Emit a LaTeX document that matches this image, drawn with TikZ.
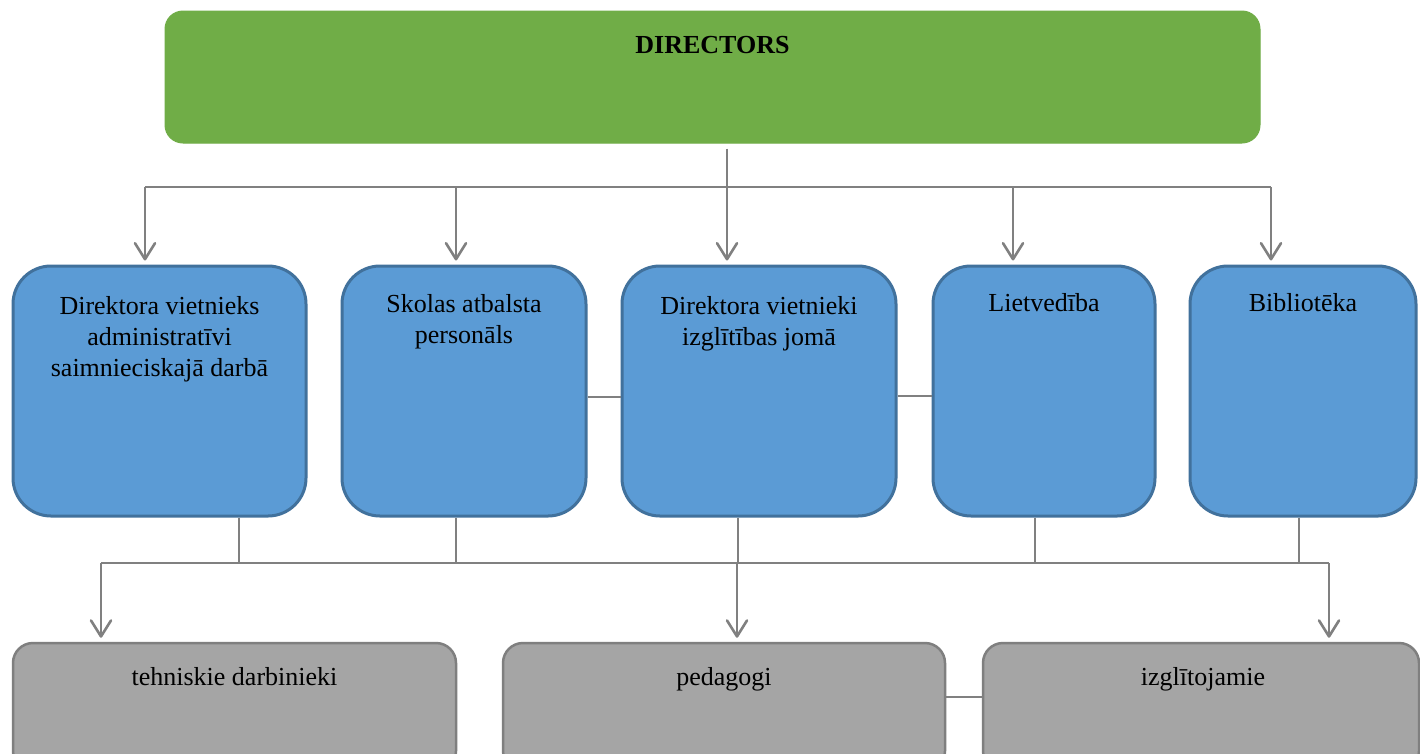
\documentclass[tikz,border=0pt]{standalone}
\usepackage{fontspec}
\setmainfont{Liberation Serif}
\usetikzlibrary{arrows.meta}
\definecolor{grn}{HTML}{70AD47}
\definecolor{bluefill}{HTML}{5B9BD5}
\definecolor{blueline}{HTML}{41719C}
\definecolor{grayfill}{HTML}{A5A5A5}
\definecolor{grayline}{HTML}{7F7F7F}
\definecolor{connc}{HTML}{808080}
\tikzset{
  topbox/.style={draw=grn, fill=grn, line width=1pt, rounded corners=18pt, inner sep=0pt},
  bluebox/.style={draw=blueline, fill=bluefill, line width=3pt, rounded corners=38pt, inner sep=0pt, minimum height=250pt},
  graybox/.style={draw=grayline, fill=grayfill, line width=2.5pt, rounded corners=20pt, inner sep=0pt, minimum height=128pt},
  txt/.style={font=\fontsize{26}{31}\selectfont, align=center, inner sep=0pt, anchor=north, text=black},
  conn/.style={draw=connc, line width=2.6pt},
  arr/.style={conn, -{Straight Barb[length=16pt,width=20pt,line width=2.6pt,round]}, shorten >=4pt},
}
\begin{document}
\begin{tikzpicture}[x=1pt,y=-1pt]
\useasboundingbox (0,0) rectangle (1420,753);
\fill[white] (0,0) rectangle (1420,753);

% top box
\node[topbox, minimum width=1095pt, minimum height=132pt] (top) at (712.5,77) {};
\node[txt] (ttop) at (712.5,36) {\bfseries DIRECTORS};

% blue boxes
\node[bluebox, minimum width=293pt] (b1) at (159.5,391) {};
\node[bluebox, minimum width=244pt] (b2) at (464,391) {};
\node[bluebox, minimum width=274pt] (b3) at (759,391) {};
\node[bluebox, minimum width=222pt] (b4) at (1044,391) {};
\node[bluebox, minimum width=226pt] (b5) at (1303,391) {};

\node[txt] (t1) at (159.5,296) {Direktora vietnieks\\administratīvi\\saimnieciskajā darbā};
\node[txt] (t2) at (464,294) {Skolas atbalsta\\personāls};
\node[txt] (t3) at (759,296) {Direktora vietnieki\\izglītības jomā};
\node[txt] (t4) at (1044,293) {Lietvedība};
\node[txt] (t5) at (1303,293) {Bibliotēka};

% gray boxes
\node[graybox, minimum width=443pt] (g1) at (234.5,707) {};
\node[graybox, minimum width=442pt] (g2) at (724,707) {};
\node[graybox, minimum width=436pt] (g3) at (1201,707) {};

\node[txt] (u1) at (234.5,667) {tehniskie darbinieki};
\node[txt] (u2) at (724,667) {pedagogi};
\node[txt] (u3) at (1203,667) {izglītojamie};

% top connectors
\coordinate (tr) at (727,187);
\coordinate (ba1) at (145,187);
\coordinate (ba2) at (456,187);
\coordinate (ba3) at (727,187);
\coordinate (ba4) at (1013,187);
\coordinate (ba5) at (1271,187);
\draw[conn, shorten <=5pt] (top.south -| tr) -- (tr);
\draw[conn] (ba1) -- (ba5);
\draw[arr] (ba1) -- (ba1 |- b1.north);
\draw[arr] (ba2) -- (ba2 |- b2.north);
\draw[arr] (ba3) -- (ba3 |- b3.north);
\draw[arr] (ba4) -- (ba4 |- b4.north);
\draw[arr] (ba5) -- (ba5 |- b5.north);

% side connectors
\draw[conn] ([yshift=-6pt]b2.east) -- ([yshift=-6pt]b3.west);
\draw[conn] ([yshift=-5pt]b3.east) -- ([yshift=-5pt]b4.west);
\draw[conn] ([yshift=10pt]g2.east) -- ([yshift=10pt]g3.west);

% lower connectors
\coordinate (d1) at (239,563);
\coordinate (d2) at (456,563);
\coordinate (d3) at (738,563);
\coordinate (d4) at (1035,563);
\coordinate (d5) at (1299,563);
\draw[conn] (d1 |- b1.south) -- (d1);
\draw[conn] (d2 |- b2.south) -- (d2);
\draw[conn] (d3 |- b3.south) -- (d3);
\draw[conn] (d4 |- b4.south) -- (d4);
\draw[conn] (d5 |- b5.south) -- (d5);
\coordinate (e1) at (101,563);
\coordinate (e2) at (737,563);
\coordinate (e3) at (1329,563);
\draw[conn] (e1) -- (e3);
\draw[arr] (e1) -- (e1 |- g1.north);
\draw[arr] (e2) -- (e2 |- g2.north);
\draw[arr] (e3) -- (e3 |- g3.north);
\end{tikzpicture}
\end{document}
